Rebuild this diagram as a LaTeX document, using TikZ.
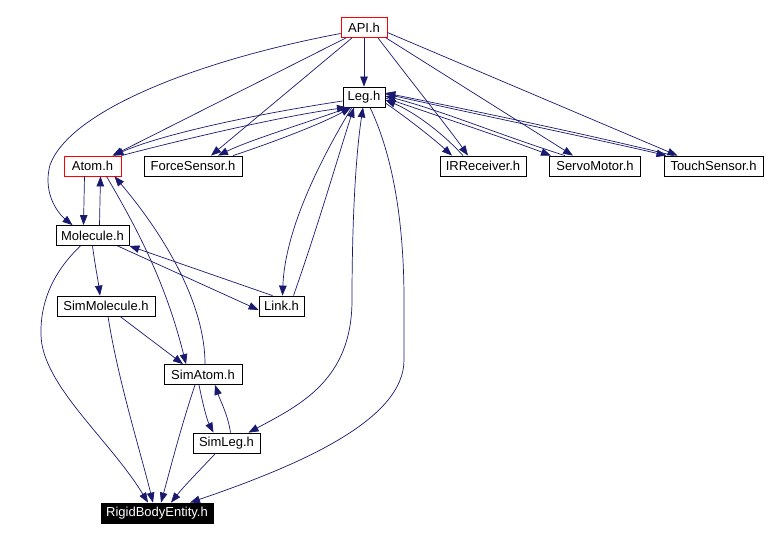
\documentclass[tikz,border=0pt]{standalone}
\usepackage{fontspec}
\setmainfont{Liberation Sans}
\usetikzlibrary{arrows.meta}
\definecolor{edgeblue}{HTML}{191970}
\begin{document}
\begin{tikzpicture}[x=1pt,y=-1pt,
  hbox/.style={draw=black,line width=0.8pt,minimum height=20pt,inner sep=0pt,font=\fontsize{13}{15}\selectfont,anchor=center,fill=white},
  redbox/.style={hbox,draw=red},
  blackbox/.style={hbox,fill=black,text=white},
  dep/.style={draw=edgeblue,line width=0.7pt,-{Triangle[length=10pt,width=7.5pt]}},
  bidep/.style={draw=edgeblue,line width=0.7pt,{Triangle[length=10pt,width=7.5pt]}-{Triangle[length=10pt,width=7.5pt]}}]
\useasboundingbox (0,0) rectangle (768,540);
% nodes
\node[redbox,minimum width=46pt] (api) at (364,27.5) {API.h};
\node[hbox,minimum width=42pt] (leg) at (364,97) {Leg.h};
\node[redbox,minimum width=57pt] (atom) at (92.5,166) {Atom.h};
\node[hbox,minimum width=98pt] (fs) at (193,166) {ForceSensor.h};
\node[hbox,minimum width=86pt] (ir) at (483,166) {IRReceiver.h};
\node[hbox,minimum width=91pt] (servo) at (595,166) {ServoMotor.h};
\node[hbox,minimum width=99pt] (touch) at (713.5,166) {TouchSensor.h};
\node[hbox,minimum width=73pt] (mol) at (92.5,235.5) {Molecule.h};
\node[hbox,minimum width=98pt] (simmol) at (106,306) {SimMolecule.h};
\node[hbox,minimum width=45pt] (link) at (281.5,306) {Link.h};
\node[hbox,minimum width=78pt] (simatom) at (203,374.5) {SimAtom.h};
\node[hbox,minimum width=67pt] (simleg) at (226.5,443) {SimLeg.h};
\node[blackbox,minimum width=112pt] (rbe) at (157,513) {RigidBodyEntity.h};
% edges from API
\draw[dep] (api.south) -- (leg.north);
\draw[dep] ([xshift=-18pt]api.south) -- ([xshift=20pt]atom.north);
\draw[dep] ([xshift=-12pt]api.south) -- ([xshift=18pt]fs.north);
\draw[dep] ([yshift=-6pt]api.west) .. controls (200,60) and (70,110) .. (50,165) .. controls (42,195) and (60,215) .. ([xshift=-20pt]mol.north);
\draw[dep] ([xshift=14pt]api.south) .. controls (410,80) and (450,130) .. ([xshift=-15pt]ir.north);
\draw[dep] ([xshift=22pt]api.south) -- ([xshift=-22pt]servo.north);
\draw[dep] ([yshift=-5pt]api.east) -- ([xshift=-36pt]touch.north);
% edges with Leg
\draw[dep] ([yshift=-4pt]leg.west) .. controls (250,115) and (160,135) .. ([xshift=21pt]atom.north);
\draw[dep] (atom.north east) .. controls (200,135) and (290,115) .. ([xshift=-17pt]leg.south);
\draw[dep] ([xshift=-15pt]leg.south) .. controls (300,125) and (250,140) .. ([xshift=25pt]fs.north);
\draw[dep] ([xshift=40pt]fs.north) .. controls (280,140) and (325,122) .. ([xshift=-13pt]leg.south);
\draw[dep] ([xshift=-12pt]leg.south) .. controls (320,160) and (285,230) .. ([xshift=1pt]link.north);
\draw[dep] ([xshift=12pt]link.north) .. controls (320,220) and (340,150) .. ([xshift=-10pt]leg.south);
\draw[bidep] ([xshift=-1pt]leg.south) .. controls (355,160) and (352,230) .. (352,300) .. controls (352,380) and (300,405) .. ([xshift=22pt]simleg.north);
\draw[dep] ([xshift=6pt]leg.south) .. controls (395,160) and (404,230) .. (404,300) -- (404,360) .. controls (404,420) and (300,465) .. ([xshift=33pt]rbe.north);
\draw[dep] ([yshift=-6pt]leg.east) .. controls (410,120) and (435,140) .. ([xshift=-31pt]ir.north);
\draw[dep] ([xshift=-20pt]ir.north) .. controls (440,130) and (410,110) .. ([yshift=-3pt]leg.east);
\draw[dep] ([yshift=-1pt]leg.east) .. controls (450,120) and (510,140) .. ([xshift=-44pt]servo.north);
\draw[dep] ([xshift=-30pt]servo.north) .. controls (500,135) and (440,110) .. ([yshift=1pt]leg.east);
\draw[dep] ([yshift=3pt]leg.east) .. controls (480,115) and (600,140) .. ([xshift=-47pt]touch.north);
\draw[dep] ([xshift=-40pt]touch.north) .. controls (590,135) and (480,112) .. ([yshift=4pt]leg.east);
% lower part
\draw[dep] ([xshift=-8pt]atom.south) -- ([xshift=-9pt]mol.north);
\draw[dep] ([xshift=7pt]mol.north) -- ([xshift=8pt]atom.south);
\draw[dep] ([xshift=14pt]atom.south) .. controls (135,225) and (165,280) .. ([xshift=-17pt]simatom.north);
\draw[dep] ([xshift=2pt]simatom.north) .. controls (205,300) and (160,230) .. ([xshift=22pt]atom.south);
\draw[dep] (mol.south) .. controls (95,265) and (98,280) .. ([xshift=-6pt]simmol.north);
\draw[dep] ([xshift=25pt]mol.south) -- ([yshift=-4pt]link.west);
\draw[dep] ([xshift=-9pt]link.north) -- (mol.south east);
\draw[dep] ([xshift=-12pt]mol.south) .. controls (55,270) and (40,300) .. (41,335) .. controls (42,385) and (110,440) .. ([xshift=-9pt]rbe.north);
\draw[dep] ([xshift=14pt]simmol.south) -- ([xshift=-20pt]simatom.north);
\draw[dep] ([xshift=2pt]simmol.south) .. controls (118,380) and (140,450) .. ([xshift=-4pt]rbe.north);
\draw[dep] ([xshift=-4pt]simatom.south) .. controls (203,405) and (207,420) .. ([xshift=-13pt]simleg.north);
\draw[dep] ([xshift=4pt]simleg.north) .. controls (228,415) and (220,400) .. ([xshift=12pt]simatom.south);
\draw[dep] ([xshift=-8pt]simatom.south) .. controls (180,430) and (170,470) .. ([xshift=4pt]rbe.north);
\draw[dep] ([xshift=-11pt]simleg.south) .. controls (200,470) and (185,485) .. ([xshift=14pt]rbe.north);
\end{tikzpicture}
\end{document}
